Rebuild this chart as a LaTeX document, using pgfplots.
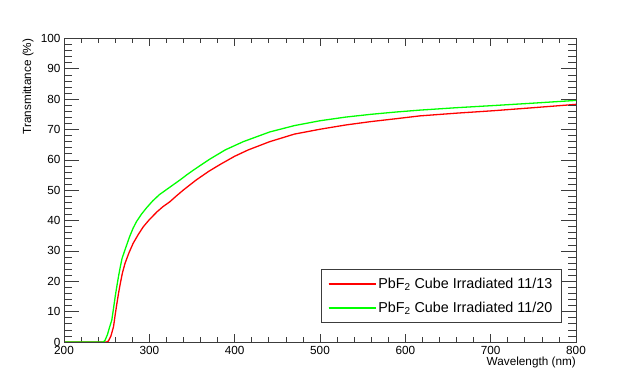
\documentclass[border=0pt]{standalone}
\usepackage{fontspec}
\setmainfont{Liberation Sans}
\usepackage{pgfplots}
\pgfplotsset{compat=1.18}
\definecolor{rootred}{RGB}{255,0,0}
\definecolor{rootgreen}{RGB}{0,255,0}
\definecolor{framegray}{RGB}{60,60,60}
\begin{document}
\begin{tikzpicture}
\useasboundingbox (-64bp,-39bp) rectangle (576bp,342bp);
\pgfplotsset{
  common/.style={
    scale only axis, width=512bp, height=303.5bp,
    xmin=200, xmax=800, ymin=0, ymax=100,
    axis line style={framegray, line width=0.7bp},
    tick align=inside, tick pos=both,
    every tick/.style={framegray, line width=0.7bp},
    ticklabel style={font=\fontsize{11.8}{13}\selectfont},
    /pgf/number format/assume math mode=true,
  }
}
% x ticks + data
\begin{axis}[common,
  xtick={200,300,...,800}, minor x tick num=4,
  ytick=\empty,
  major tick length=8bp, minor tick length=4.5bp,
  xticklabel style={yshift=-1bp},
  xlabel={Wavelength (nm)},
  xlabel style={at={(axis description cs:1,-0.069)}, anchor=east, inner sep=0pt, font=\fontsize{11.8}{13}\selectfont},
  legend style={at={(axis description cs:0.972,0.0636)}, anchor=south east,
    draw=framegray, line width=0.7bp, font=\fontsize{14.4}{16}\selectfont,
    inner xsep=7bp, inner ysep=6.5bp, row sep=8bp, cells={anchor=west}},
  legend image code/.code={\draw[#1, line width=1.3bp] (0bp,0bp) -- (42bp,0bp); \path (0bp,0bp) -- (47bp,0bp);},
]
\addplot[rootred, line width=1.3bp] coordinates {
(200,0) (250,0) (252,0.3) (255,2) (258,5) (260,9) (262,12.7) (264,16.2) (266,19.3) (268.5,22.8) (271.5,25.9) (276,29.3) (281,32.5) (287,35.4) (293,38) (300,40.3) (309,42.9) (316,44.6) (324,46.2) (332,48.2) (340,50.1) (355,53.4) (370,56.3) (383,58.5) (400,61.2) (416,63.3) (441,66) (470,68.5) (500,70.1) (530,71.5) (559,72.6) (590,73.6) (617,74.5) (660,75.4) (703,76.2) (750,77.2) (800,78.3)
};
\addlegendentry{PbF\textsubscript{2} Cube Irradiated 11/13}
\addplot[rootgreen, line width=1.3bp] coordinates {
(200,0) (246,0) (248,0.5) (251,2.5) (253,4.5) (256,7.2) (258,11) (260,15) (262,18.5) (264,21.8) (266,24.8) (268,27.5) (272,30.8) (277,34.8) (281,37.5) (285,39.7) (291,42.2) (297,44.3) (304,46.5) (312,48.6) (320,50.2) (328,51.8) (336,53.4) (344,55.1) (352,56.7) (370,60.1) (389,63.3) (410,66) (441,69.2) (470,71.3) (500,72.9) (530,74.1) (559,75) (590,75.8) (617,76.4) (660,77.2) (703,77.9) (750,78.7) (800,79.6)
};
\addlegendentry{PbF\textsubscript{2} Cube Irradiated 11/20}
\end{axis}
% y ticks
\begin{axis}[common,
  xtick=\empty,
  ytick={0,10,...,100}, minor y tick num=4,
  major tick length=15bp, minor tick length=7.5bp,
  ylabel={Transmittance (\%)},
  ylabel style={at={(axis description cs:-0.0703,1)}, anchor=east, inner sep=0pt, font=\fontsize{11.8}{13}\selectfont},
]
\end{axis}
\end{tikzpicture}
\end{document}
